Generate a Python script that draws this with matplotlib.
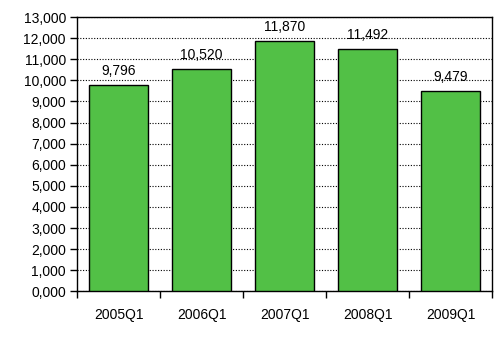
import matplotlib
import matplotlib.pyplot as plt
import numpy as np
from matplotlib.ticker import FuncFormatter, FixedLocator

plt.switch_backend("agg")
plt.rcParams["font.family"] = ["Liberation Sans", "DejaVu Sans"]

QUARTERS = ["2005Q1", "2006Q1", "2007Q1", "2008Q1", "2009Q1"]
VALUES = [9796, 10520, 11870, 11492, 9479]
Y_TICKS = list(range(0, 14000, 1000))

BAR_COLOR = "#52c046"


def fmt_thousands(v, pos=None):
    v = int(round(v))
    return f"{v // 1000},{v % 1000:03d}"


def main():
    fig = plt.figure(figsize=(4.97, 3.62), dpi=100)
    ax = fig.add_axes([0.155, 0.195, 0.835, 0.758])

    x = np.arange(len(QUARTERS))
    ax.bar(x, VALUES, width=0.71, color=BAR_COLOR, edgecolor="black", linewidth=1.0, zorder=3)

    for xi, v in zip(x, VALUES):
        ax.annotate(fmt_thousands(v), (xi, v), xytext=(0, 5), textcoords="offset points",
                    ha="center", va="bottom", fontsize=10, zorder=4)

    ax.set_xlim(-0.5, len(QUARTERS) - 0.5)
    ax.set_ylim(0, 13000)
    ax.set_yticks(Y_TICKS)
    ax.yaxis.set_major_formatter(FuncFormatter(fmt_thousands))
    ax.yaxis.grid(True, color="black", linestyle=(0, (1, 1.5)), linewidth=0.8, zorder=1)

    ax.set_xticks(x)
    ax.set_xticklabels(QUARTERS)
    ax.xaxis.set_minor_locator(FixedLocator(np.arange(-0.5, len(QUARTERS), 1.0)))
    ax.tick_params(axis="x", which="major", length=0, pad=12, labelsize=10)
    ax.tick_params(axis="x", which="minor", length=5, width=1, direction="out")
    ax.tick_params(axis="y", length=5, width=1, direction="out", labelsize=10, pad=3)

    for s in ax.spines.values():
        s.set_linewidth(1.0)
        s.set_color("black")

    fig.savefig("out.png", dpi=100)
    plt.close(fig)


if __name__ == "__main__":
    main()
